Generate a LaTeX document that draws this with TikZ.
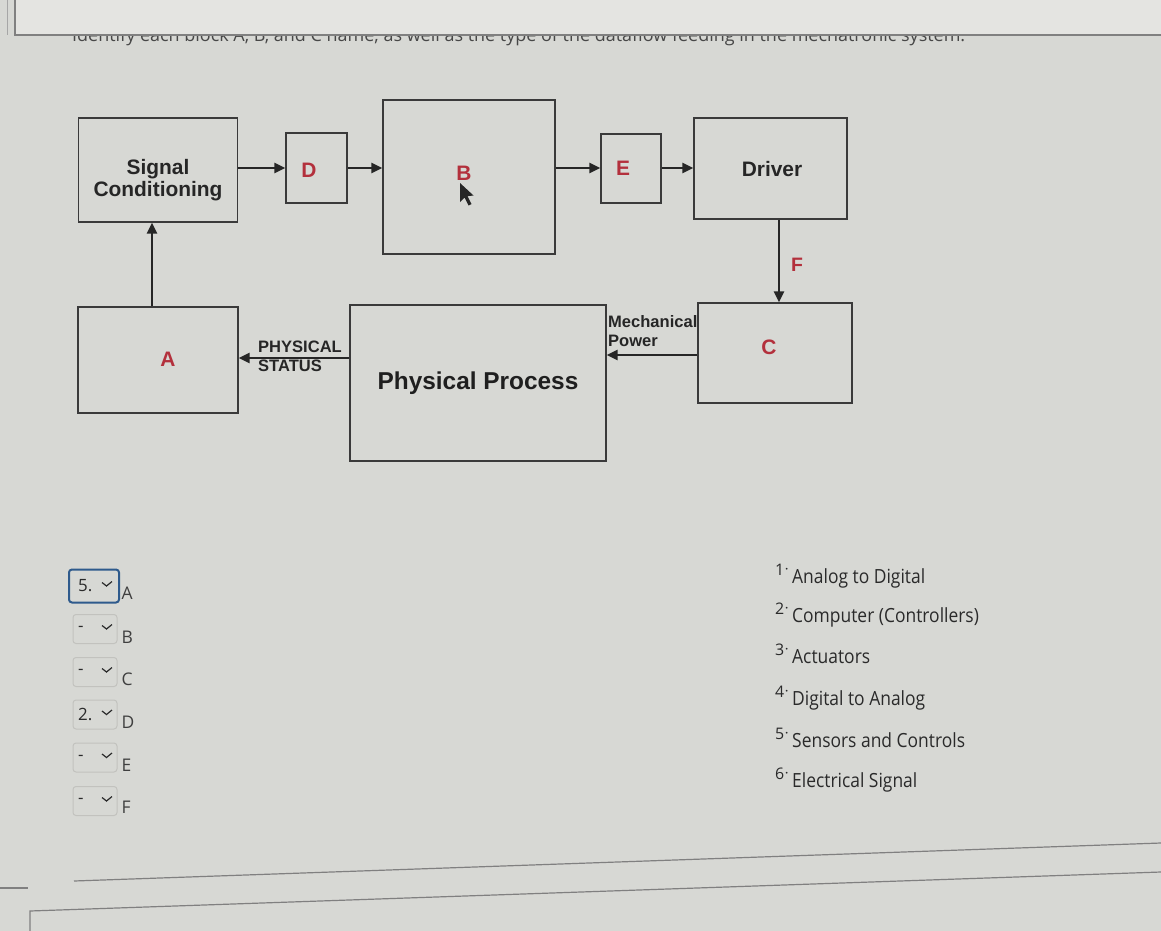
\documentclass[tikz,border=0pt]{standalone}
\usepackage{fontspec}
\setmainfont{Liberation Sans}
\newfontfamily\osans{Open Sans}
\usetikzlibrary{arrows.meta}
\definecolor{bg}{HTML}{D7D8D4}
\definecolor{bgtop}{HTML}{E4E4E1}
\definecolor{lred}{HTML}{B3303C}
\definecolor{boxline}{HTML}{3A3A3A}
\definecolor{ddline}{HTML}{C2C2BE}
\definecolor{ddblue}{HTML}{2E5A8C}
\definecolor{txt}{HTML}{2A2A2A}
\tikzset{
  blockbox/.style={draw=boxline, line width=1.4bp, inner sep=0pt},
  arr/.style={draw=black!85, line width=2.8bp, -{Triangle[length=11bp,width=10bp]}},
  letter/.style={text=lred, font=\fontsize{21}{21}\selectfont\bfseries},
  boldlab/.style={font=\fontsize{21}{22}\selectfont\bfseries, align=center, text=black!85},
  smalllab/.style={font=\fontsize{16.6}{19}\selectfont\bfseries, align=left, text=black!85, inner sep=0pt, anchor=north west},
  ddbox/.style={draw=ddline, line width=1bp, rounded corners=3bp, minimum width=44bp, minimum height=29bp, inner sep=0pt},
  ddtext/.style={font=\osans\fontsize{17}{17}\selectfont, text=txt, anchor=west, inner sep=0pt},
  ddlet/.style={font=\osans\fontsize{17.5}{17.5}\selectfont, text=txt!90, anchor=west, inner sep=0pt},
  listtxt/.style={font=\osans\fontsize{17.5}{17.5}\selectfont, text=txt, anchor=base west, inner sep=0pt},
  listnum/.style={font=\osans\fontsize{16}{16}\selectfont, text=txt, anchor=base west, inner sep=0pt},
  screenline/.style={draw=black!50, line width=1.2bp}
}
\begin{document}
\begin{tikzpicture}[x=1bp,y=-1bp]
\useasboundingbox (0,0) rectangle (1161,931);
\fill[bg] (0,0) rectangle (1161,931);
\fill[bgtop] (15,0) rectangle (1161,35);
\draw[black!35, line width=0.8bp] (7,0) -- (7,35);
% top clipped instruction text
\begin{scope}
  \clip (0,36.5) rectangle (1161,60);
  \node[anchor=base west, inner sep=0pt, text=black!72] (instr) at (72,41)
    {\resizebox{893bp}{!}{\osans Identify each block A, B, and C name, as well as the type of the dataflow feeding in the mechatronic system.}};
\end{scope}
\draw[screenline] (15,0) -- (15,35) -- (1161,35);

% blocks
\node[blockbox, minimum width=159bp, minimum height=104bp] (sc) at (158,170) {};
\node[boldlab] (sclab) at (158,180) {Signal\\Conditioning};
\node[blockbox, minimum width=61bp, minimum height=70bp] (d) at (316.5,168) {};
\node[letter] (dlab) at (309,170) {D};
\node[blockbox, minimum width=172bp, minimum height=154bp] (b) at (469,177) {};
\node[letter] (blab) at (464,173) {B};
\node[blockbox, minimum width=60bp, minimum height=69bp] (e) at (631,168.5) {};
\node[letter] (elab) at (623,168) {E};
\node[blockbox, minimum width=153bp, minimum height=101bp] (drv) at (770.5,168.5) {};
\node[boldlab] (drvlab) at (772,169) {Driver};
\node[blockbox, minimum width=154bp, minimum height=100bp] (c) at (775,353) {};
\node[letter] (clab) at (769,347) {C};
\node[blockbox, minimum width=256bp, minimum height=156bp] (pp) at (478,383) {};
\node[font=\fontsize{24.5}{24.5}\selectfont\bfseries, text=black!88] (pplab) at (478,383) {Physical Process};
\node[blockbox, minimum width=160bp, minimum height=106bp] (a) at (158,360) {};
\node[letter] (alab) at (168,359) {A};

% mouse cursor under B
\fill[black!85] (460,183) -- (460,202) -- (464.5,197.5) -- (468.5,205.5) -- (471.5,204) -- (467.5,196.2) -- (473.5,195.5) -- cycle;

% connectors
\draw[arr] (sc.east |- 0,168) -- (d.west |- 0,168);
\draw[arr] (d.east |- 0,168) -- (b.west |- 0,168);
\draw[arr] (b.east |- 0,168) -- (e.west |- 0,168);
\draw[arr] (e.east |- 0,168) -- (drv.west |- 0,168);
\draw[arr] (drv.south -| 779,0) -- (c.north -| 779,0);
\node[letter, font=\fontsize{19.5}{19.5}\selectfont\bfseries] (flab) at (797,265) {F};
\draw[arr] (c.west |- 0,355) -- (pp.east |- 0,355);
\node[smalllab] (mplab) at (608,315) {Mechanical\\Power};
\draw[arr] (pp.west |- 0,358) -- (a.east |- 0,358);
\node[smalllab] (pslab) at (258,341) {PHYSICAL\\STATUS};
\draw[arr] (a.north -| 152,0) -- (sc.south -| 152,0);

% dropdowns
\foreach \yy/\ly/\vv/\ll [count=\i] in {586/593/5./A,629/637.5/-/B,672/679.5/-/C,714.5/722/2./D,757.5/765/-/E,801/807.5/-/F}{
  \ifnum\i=1
    \node[ddbox, draw=ddblue, line width=2bp, minimum width=50bp, minimum height=33bp] (dd\i) at (94,\yy) {};
  \else
    \node[ddbox] (dd\i) at (95,\yy) {};
  \fi
  \node[ddtext] (ddv\i) at (78,\yy) {\vv};
  \draw[txt, line width=1.2bp] (102,\yy-3.5) -- (106.5,\yy) -- (112,\yy-4.5);
  \node[ddlet] (ddl\i) at (121.5,\ly) {\ll};
}

% options list
\foreach \yy/\nm/\tx [count=\j] in {583/1/Analog to Digital,622/2/Computer (Controllers),663/3/Actuators,705/4/Digital to Analog,747/5/Sensors and Controls,787/6/Electrical Signal}{
  \node[listnum] (ln\j) at (775,\yy-8) {\nm\raisebox{1.5bp}{$\cdot$}};
  \node[listtxt] (lt\j) at (792,\yy) {\scalebox{1}[1.12]{\tx}};
}

% bottom screen lines
\draw[screenline] (74,881) -- (1161,843);
\draw[screenline] (0,888) -- (28,888);
\draw[screenline] (30,931) -- (30,911) -- (1161,872);
\end{tikzpicture}
\end{document}
